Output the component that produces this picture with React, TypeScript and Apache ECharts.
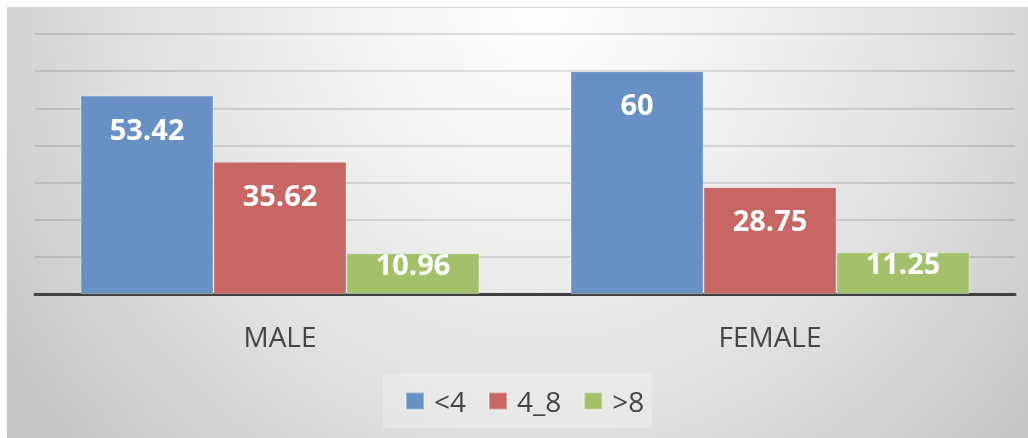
import React, { useEffect, useRef } from "react";
import * as echarts from "echarts";

const categories = ["MALE", "FEMALE"];
const seriesNames = ["<4", "4_8", ">8"];
const under4 = [53.42, 60];
const from4to8 = [35.62, 28.75];
const over8 = [10.96, 11.25];
const colors = ["#6791c5", "#c86664", "#a3c16b"];

const FONT = "'Open Sans', sans-serif";

export default function App() {
  const ref = useRef<HTMLDivElement>(null);
  useEffect(() => {
    if (!ref.current) return;
    const chart = echarts.init(ref.current, undefined, { renderer: "svg" });
    const values = [under4, from4to8, over8];
    const labelDistance = [18, 18, -4];
    chart.setOption({
      animation: false,
      backgroundColor: "transparent",
      textStyle: { fontFamily: FONT },
      grid: { left: 28, right: 13, top: 26, bottom: 144 },
      legend: {
        data: seriesNames,
        left: 376,
        top: 365,
        orient: "horizontal",
        icon: "rect",
        itemWidth: 18,
        itemHeight: 17,
        itemGap: 22,
        padding: [14, 8, 13, 22],
        backgroundColor: "rgba(255,255,255,0.25)",
        textStyle: { fontSize: 28, color: "#454545", fontFamily: FONT, padding: [0, 0, 0, 5] },
      },
      xAxis: {
        type: "category",
        data: categories,
        axisLine: { lineStyle: { color: "#404040", width: 3 } },
        axisTick: { show: false },
        axisLabel: { fontSize: 28, color: "#454545", fontFamily: FONT, margin: 28 },
        splitLine: { show: false },
      },
      yAxis: {
        type: "value",
        min: 0,
        max: 70,
        interval: 10,
        axisLabel: { show: false },
        axisLine: { show: false },
        axisTick: { show: false },
        splitLine: { lineStyle: { color: "rgba(0,0,0,0.16)", width: 1.5 } },
      },
      series: seriesNames.map((name, i) => ({
        name,
        type: "bar",
        data: values[i],
        barWidth: 133,
        barGap: "0%",
        itemStyle: { color: colors[i], borderColor: "rgba(255,255,255,0.35)", borderWidth: 1 },
        label: {
          show: true,
          position: "insideTop",
          distance: labelDistance[i],
          fontSize: 29,
          fontWeight: "bold",
          color: "#ffffff",
          fontFamily: FONT,
        },
      })),
    });
    return () => chart.dispose();
  }, []);
  return (
    <div
      style={{
        position: "fixed",
        left: 7,
        top: 8,
        width: 1021,
        height: 430,
        background:
          "radial-gradient(ellipse 62% 150% at 52% 0%, #ffffff 0%, #f2f2f2 30%, #e0e0e0 65%, #c6c6c6 100%)",
        boxShadow: "0 -1px 1px rgba(0,0,0,0.15)",
      }}
    >
      <div ref={ref} style={{ width: 1021, height: 430 }} />
    </div>
  );
}
